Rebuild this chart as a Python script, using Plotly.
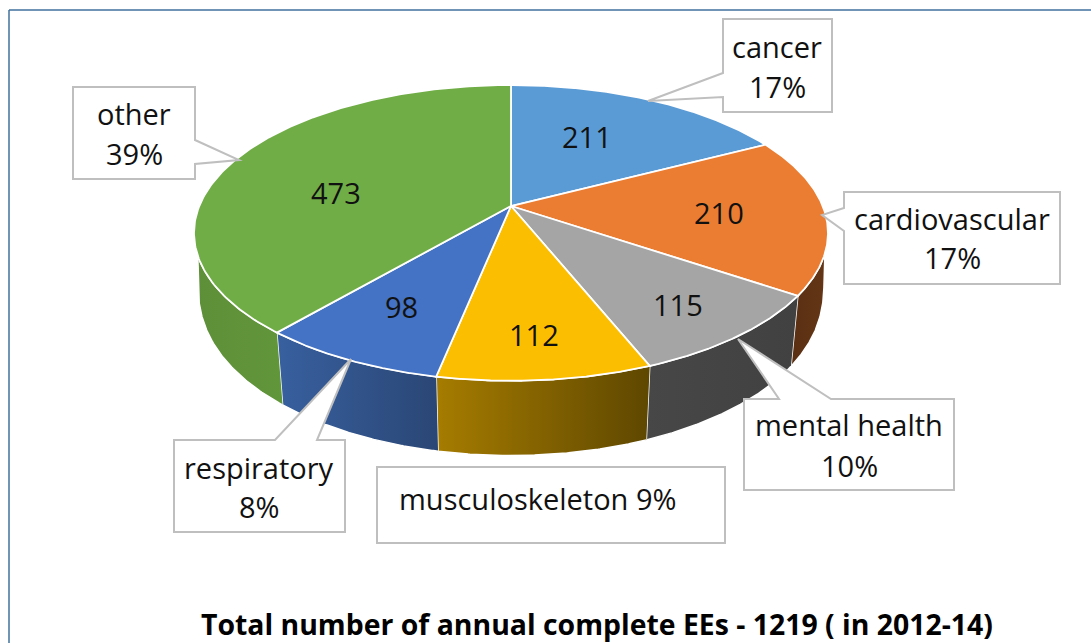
import numpy as np
import plotly.graph_objects as go

categories = ["cancer", "cardiovascular", "mental health", "musculoskeleton", "respiratory", "other"]
values = [211, 210, 115, 112, 98, 473]
percents = ["17%", "17%", "10%", "9%", "8%", "39%"]
title_text = "Total number of annual complete EEs - 1219 ( in 2012-14)"

top_colors = ["#5B9BD5", "#EB7D32", "#A5A5A5", "#FCBE00", "#4472C4", "#70AD47"]
wall_colors = [None, ("#5A2F12", "#643616"), ("#474747", "#414141"), ("#A67C00", "#5E4700"),
               ("#38609F", "#2A4675"), ("#5D8F38", "#62963B")]

CX, CY = 511, 206
A, B, K = 311.7, 143.0, 0.182
WALL_SX, WALL_SY, WALL_D = 0.975, 1.05, 66
FONT = "Open Sans, Noto Sans, sans-serif"
TEXT = "#111111"
EDGE = "#BFBFBF"


def top_xy(theta):
    X, Y = np.sin(theta), np.cos(theta)
    d = 1 + K * Y
    return A * X / d, B * Y / d


def top_pts(theta):
    x, y = top_xy(theta)
    return CX + x, CY - y


def bottom_pts(theta):
    x, y = top_xy(theta)
    flare = np.sign(np.sin(theta)) * 9 * np.exp(6 * np.cos(theta))
    return CX + WALL_SX * x + flare, CY - WALL_SY * y + WALL_D


fig = go.Figure()
total = sum(values)
edges = np.concatenate([[0], np.cumsum(values)]) / total * 2 * np.pi
VIS_START, VIS_END = np.radians(82), np.radians(278)

# side walls
for i in range(len(values)):
    lo, hi = max(edges[i], VIS_START), min(edges[i + 1], VIS_END)
    if hi <= lo or wall_colors[i] is None:
        continue
    th = np.linspace(lo, hi, 120)
    xt, yt = top_pts(th)
    xb, yb = bottom_pts(th[::-1])
    c1, c2 = wall_colors[i]
    fig.add_trace(go.Scatter(
        x=np.concatenate([xt, xb]), y=np.concatenate([yt, yb]), mode="lines", fill="toself",
        line=dict(color="white", width=1.5),
        fillgradient=dict(type="horizontal", colorscale=[[0, c1], [1, c2]]),
        hoverinfo="skip", showlegend=False))

# top face
for i in range(len(values)):
    th = np.linspace(edges[i], edges[i + 1], 200)
    xt, yt = top_pts(th)
    fig.add_trace(go.Scatter(
        x=np.concatenate([[CX], xt, [CX]]), y=np.concatenate([[CY], yt, [CY]]),
        mode="lines", fill="toself", fillcolor=top_colors[i],
        line=dict(color="white", width=1.8), hoverinfo="skip", showlegend=False))

# callout boxes
callouts = [
    "M723,19 L832,19 L832,112 L723,112 L723,97 L648,101 L723,73 Z",
    "M844,192 L1060,192 L1060,284 L844,284 L844,231 L822,215 L844,208 Z",
    "M744,399 L779,399 L738,339 L831,399 L954,399 L954,490 L744,490 Z",
    "M377,467 L725,467 L725,543 L377,543 Z",
    "M174,440 L275,440 L351,359 L317,440 L345,440 L345,532 L174,532 Z",
    "M73,87 L195,87 L195,140 L239,160 L195,164 L195,179 L73,179 Z",
]
shapes = [dict(type="path", path=p, xref="x", yref="y", fillcolor="white",
               line=dict(color=EDGE, width=2), layer="above") for p in callouts]
# chart frame: top and left edges only
shapes.append(dict(type="line", x0=9, y0=10, x1=1091, y1=10, xref="x", yref="y",
                   line=dict(color="#41719C", width=1.5)))
shapes.append(dict(type="line", x0=9, y0=10, x1=9, y1=643, xref="x", yref="y",
                   line=dict(color="#41719C", width=1.5)))

annotations = []


def txt(x, y, s, size=29, color=TEXT, bold=False):
    annotations.append(dict(x=x, y=y, xref="x", yref="y", text=f"<b>{s}</b>" if bold else s,
                            showarrow=False, xanchor="center", yanchor="middle",
                            font=dict(family=FONT, size=size, color=color)))


value_pos = [(587, 136), (719, 212), (678, 304), (534, 334), (401, 306), (336, 192)]
for v, (x, y) in zip(values, value_pos):
    txt(x, y, str(v))

txt(777, 46, categories[0]); txt(777, 86, percents[0])
txt(952, 218, categories[1]); txt(952, 257, percents[1])
txt(849, 424, categories[2]); txt(849, 465, percents[2])
txt(538, 498, f"{categories[3]} {percents[3]}")
txt(259, 467, categories[4]); txt(259, 506, percents[4])
txt(134, 113, categories[5]); txt(134, 153, percents[5])
txt(597, 624, title_text, size=28.4, color="#000000", bold=True)

fig.update_layout(
    width=1091, height=643, margin=dict(l=0, r=0, t=0, b=0),
    paper_bgcolor="white", plot_bgcolor="white", showlegend=False,
    xaxis=dict(range=[0, 1091], visible=False, fixedrange=True),
    yaxis=dict(range=[643, 0], visible=False, fixedrange=True),
    shapes=shapes, annotations=annotations,
)
fig.write_html("out.html", config={"displayModeBar": False},
               post_script="document.body.style.margin='0';document.body.style.overflow='hidden';")
